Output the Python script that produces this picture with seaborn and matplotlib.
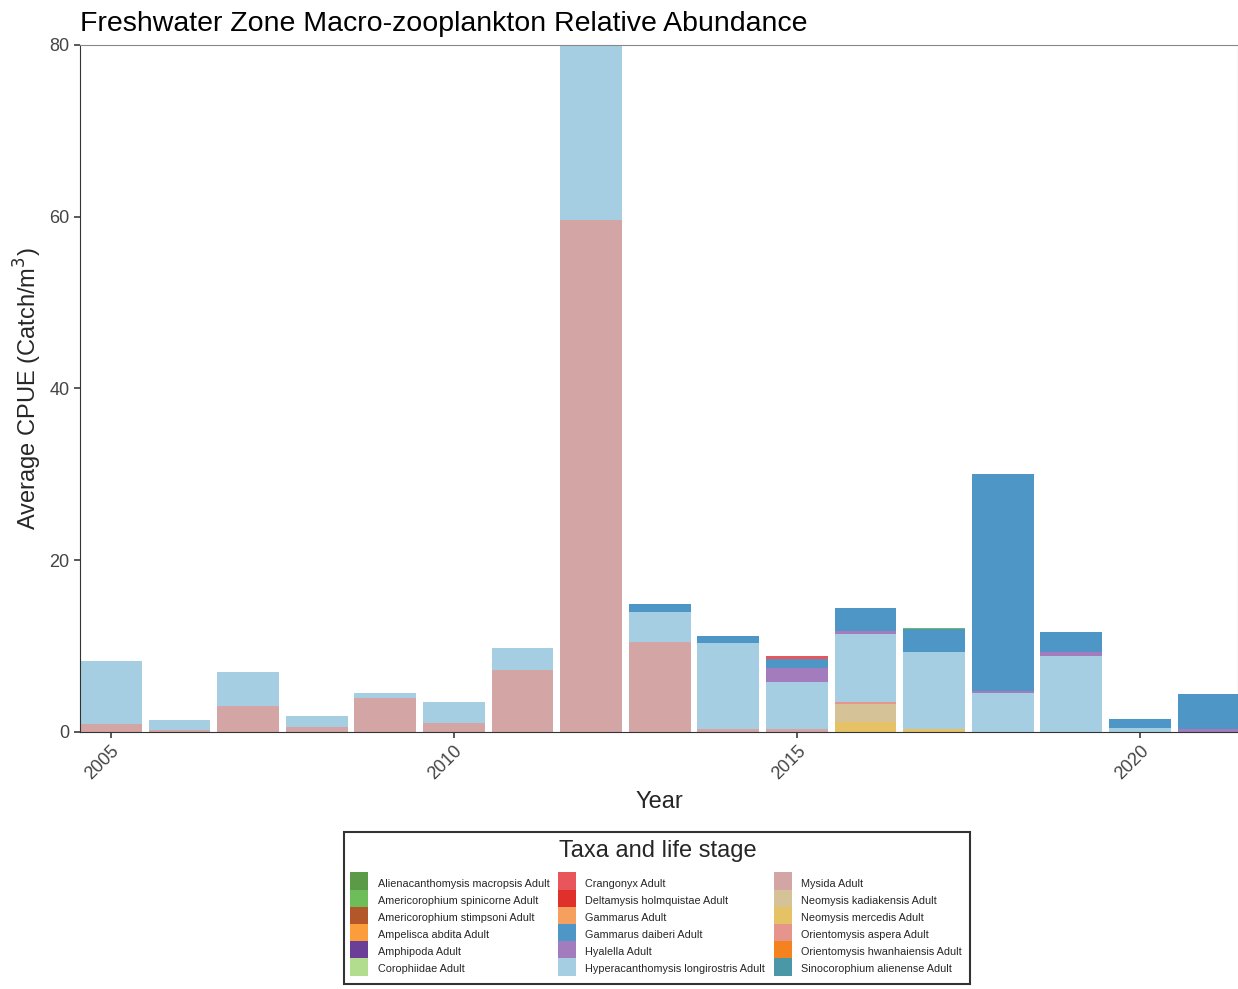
import numpy as np
import pandas as pd
import seaborn as sns
import matplotlib.pyplot as plt
from matplotlib.lines import Line2D

years = list(range(2005, 2022))

taxa = ["Alienacanthomysis macropsis Adult", "Americorophium spinicorne Adult",
        "Americorophium stimpsoni Adult", "Ampelisca abdita Adult", "Amphipoda Adult",
        "Corophiidae Adult", "Crangonyx Adult", "Deltamysis holmquistae Adult",
        "Gammarus Adult", "Gammarus daiberi Adult", "Hyalella Adult",
        "Hyperacanthomysis longirostris Adult", "Mysida Adult",
        "Neomysis kadiakensis Adult", "Neomysis mercedis Adult",
        "Orientomysis aspera Adult", "Orientomysis hwanhaiensis Adult",
        "Sinocorophium alienense Adult"]
colors = ["#5b9b47", "#6dbd5a", "#b3572b", "#fb9d3a", "#6b3f98", "#b2dc8e",
          "#e8555a", "#e0302c", "#f6a060", "#4d96c6", "#a37cbd", "#a6cee3",
          "#d4a5a5", "#d5c397", "#e6c266", "#e6958c", "#f4831f", "#4a97a8"]

# stacking order, bottom to top
mysida = [0.9, 0.2, 3.0, 0.6, 4.0, 1.0, 7.2, 59.6, 10.5, 0.3, 0.3, 0.0, 0.0, 0.0, 0.0, 0.0, 0.0]
n_mercedis = [0, 0, 0, 0, 0, 0, 0, 0, 0, 0, 0, 1.2, 0.3, 0, 0, 0, 0]
n_kadiakensis = [0, 0, 0, 0, 0, 0, 0, 0, 0, 0, 0, 2.1, 0, 0, 0, 0, 0]
o_aspera = [0, 0, 0, 0, 0, 0, 0, 0, 0, 0, 0, 0.2, 0, 0, 0, 0, 0]
hyper = [7.3, 1.2, 4.0, 1.3, 0.5, 2.5, 2.6, 36.0, 3.5, 10.0, 5.5, 7.9, 9.0, 4.5, 8.8, 0.5, 0.0]
hyalella = [0, 0, 0, 0, 0, 0, 0, 0, 0, 0, 1.6, 0.3, 0, 0.3, 0.5, 0, 0.3]
g_daiberi = [0, 0, 0, 0, 0, 0, 0, 0, 0.9, 0.9, 1.1, 2.7, 2.7, 25.2, 2.3, 1.0, 4.1]
crangonyx = [0, 0, 0, 0, 0, 0, 0, 0, 0, 0, 0.3, 0, 0, 0, 0, 0, 0]
a_spinicorne = [0, 0, 0, 0, 0, 0, 0, 0, 0, 0, 0, 0, 0.15, 0, 0, 0, 0]

layers = [("Mysida Adult", mysida), ("Neomysis mercedis Adult", n_mercedis),
          ("Neomysis kadiakensis Adult", n_kadiakensis),
          ("Orientomysis aspera Adult", o_aspera),
          ("Hyperacanthomysis longirostris Adult", hyper),
          ("Hyalella Adult", hyalella), ("Gammarus daiberi Adult", g_daiberi),
          ("Crangonyx Adult", crangonyx),
          ("Americorophium spinicorne Adult", a_spinicorne)]

cmap = dict(zip(taxa, colors))

sns.set_theme(style="white")
plt.rcParams['font.family'] = ['Liberation Sans', 'DejaVu Sans']

fig = plt.figure(figsize=(12.38, 9.89), dpi=100)
ax = fig.add_axes([0.0646, 0.26, 0.9354, 0.6945])

bottom = np.zeros(len(years))
for name, vals in layers:
    vals = np.array(vals, dtype=float)
    ax.bar(years, vals, bottom=bottom, width=0.9, color=cmap[name], linewidth=0)
    bottom += vals

ax.set_xlim(2004.55, 2021.43)
ax.set_ylim(0, 80)
ax.set_yticks([0, 20, 40, 60, 80])
ax.set_xticks([2005, 2010, 2015, 2020])
ax.tick_params(axis='both', labelsize=13, colors='#444444', length=4, bottom=True, left=True)
plt.setp(ax.get_xticklabels(), rotation=45, ha='right', rotation_mode='anchor')
for s in ax.spines.values():
    s.set_color('#888888')
    s.set_linewidth(0.8)
ax.spines['bottom'].set_color('#333333')
ax.spines['left'].set_color('#333333')
ax.set_xlabel("Year", fontsize=17, labelpad=6)
ax.set_ylabel("Average CPUE (Catch/m$^3$)", fontsize=17)
ax.set_title("Freshwater Zone Macro-zooplankton Relative Abundance", fontsize=20.5,
             loc='left', x=0.0, pad=10, color='black')

handles = [Line2D([], [], linestyle='none', marker='s', markersize=12.5,
                  markerfacecolor=c, markeredgewidth=0, label=t)
           for t, c in zip(taxa, colors)]
leg = fig.legend(handles=handles, loc='center', bbox_to_anchor=(0.531, 0.082),
                 ncol=3, fontsize=7.8, title="Taxa and life stage", title_fontsize=17,
                 frameon=True, fancybox=False, edgecolor='black',
                 handlelength=1.2, handleheight=1.55, labelspacing=0.33,
                 columnspacing=1.0, handletextpad=1.1, borderpad=0.8)
leg.get_frame().set_linewidth(1.5)
leg._legend_box.sep = 10

fig.savefig("out.png", dpi=100)
